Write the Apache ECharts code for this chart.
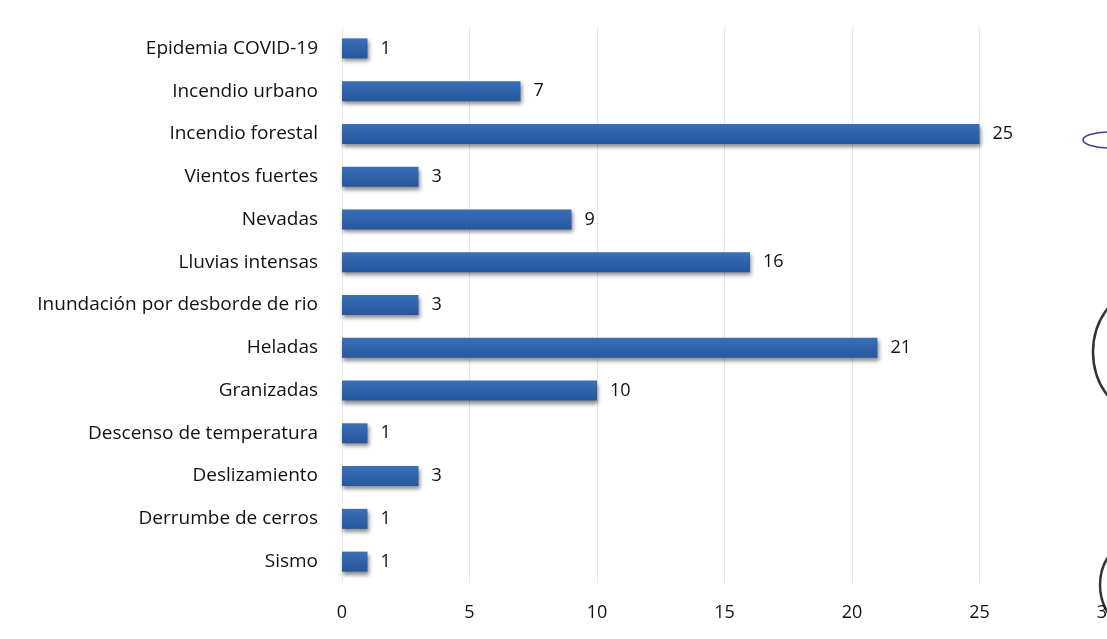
<!DOCTYPE html>
<html>
<head>
<meta charset="utf-8">
<title>Emergencias por tipo de evento</title>
<script src="https://cdn.jsdelivr.net/npm/echarts@6/dist/echarts.min.js"></script>
<style>
  html, body { margin: 0; padding: 0; background: #ffffff; }
  #chart { width: 1107px; height: 639px; }
</style>
</head>
<body>
<div id="chart"></div>
<script>
// Event types, listed top to bottom
const categories = [
  'Epidemia COVID-19',
  'Incendio urbano',
  'Incendio forestal',
  'Vientos fuertes',
  'Nevadas',
  'Lluvias intensas',
  'Inundación por desborde de rio',
  'Heladas',
  'Granizadas',
  'Descenso de temperatura',
  'Deslizamiento',
  'Derrumbe de cerros',
  'Sismo'
];
// Number of emergencies for each event type
const counts = [1, 7, 25, 3, 9, 16, 3, 21, 10, 1, 3, 1, 1];
// Horizontal axis ticks
const xTicks = [0, 5, 10, 15, 20, 25, 30];

const font = '"Open Sans", Lato, "DejaVu Sans", sans-serif';
const chart = echarts.init(document.getElementById('chart'), null, { renderer: 'canvas' });

chart.setOption({
  backgroundColor: '#ffffff',
  animation: false,
  grid: { left: 342, right: 0, top: 27, bottom: 56, containLabel: false, outerBoundsMode: 'none' },
  xAxis: {
    type: 'value',
    min: xTicks[0],
    max: xTicks[xTicks.length - 1],
    interval: xTicks[1] - xTicks[0],
    axisLine: { show: false },
    axisTick: { show: false },
    splitLine: { show: true, lineStyle: { color: '#e6e6e6', width: 1 } },
    axisLabel: { color: '#111', fontFamily: font, fontSize: 18, margin: 21, hideOverlap: false }
  },
  yAxis: {
    type: 'category',
    data: categories,
    inverse: true,
    axisLine: { show: true, lineStyle: { color: '#ececec' } },
    axisTick: { show: false },
    axisLabel: { color: '#111', fontFamily: font, fontSize: 19, margin: 24 }
  },
  series: [{
    type: 'bar',
    data: counts,
    barWidth: 20,
    itemStyle: {
      color: new echarts.graphic.LinearGradient(0, 0, 0, 1, [
        { offset: 0, color: '#3a6fb8' },
        { offset: 0.5, color: '#2f62aa' },
        { offset: 1, color: '#27579c' }
      ]),
      shadowColor: 'rgba(0,0,0,0.45)',
      shadowBlur: 4,
      shadowOffsetX: 1,
      shadowOffsetY: 3
    },
    label: {
      show: true,
      position: 'right',
      distance: 13,
      color: '#111',
      fontFamily: font,
      fontSize: 18
    }
  }],
  graphic: [
    // ink marks at the right margin
    { type: 'ellipse', shape: { cx: 1111, cy: 140, rx: 28, ry: 8 },
      style: { fill: 'none', stroke: '#3a3f8f', lineWidth: 1.6 } },
    { type: 'circle', shape: { cx: 1165, cy: 352, r: 72 },
      style: { fill: 'none', stroke: '#333', lineWidth: 2.5 } },
    { type: 'circle', shape: { cx: 1152, cy: 585, r: 52 },
      style: { fill: 'none', stroke: '#333', lineWidth: 2.5 } }
  ]
});
</script>
</body>
</html>
